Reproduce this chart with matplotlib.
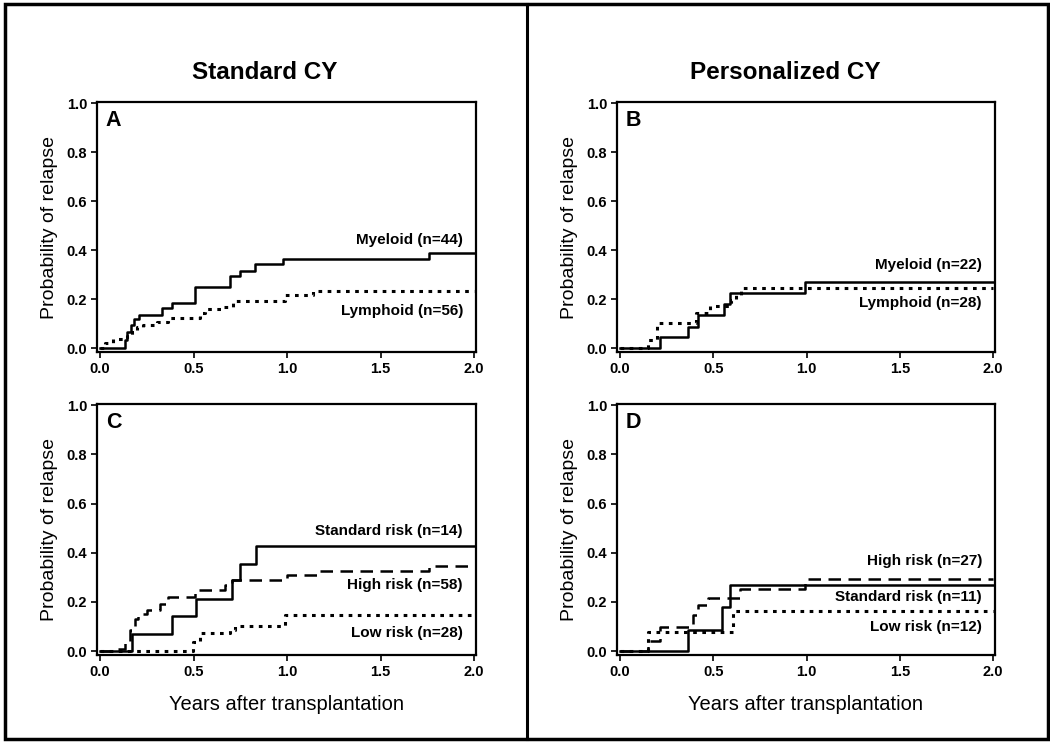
import matplotlib.pyplot as plt
from matplotlib.patches import Rectangle

# Panel A: Standard CY, by disease type
a_myeloid_t = [0.0, 0.134, 0.146, 0.164, 0.182, 0.21, 0.33, 0.383, 0.508, 0.695, 0.749, 0.829, 0.98, 1.756, 2.0]
a_myeloid_p = [0.0, 0.033, 0.067, 0.094, 0.117, 0.137, 0.162, 0.185, 0.248, 0.294, 0.316, 0.342, 0.362, 0.389, 0.389]
a_lymphoid_t = [0.0, 0.027, 0.071, 0.143, 0.17, 0.196, 0.232, 0.303, 0.365, 0.535, 0.561, 0.66, 0.713, 0.989, 1.14, 2.0]
a_lymphoid_p = [0.0, 0.019, 0.037, 0.049, 0.067, 0.087, 0.094, 0.107, 0.125, 0.142, 0.159, 0.169, 0.193, 0.216, 0.234, 0.234]

# Panel B: Personalized CY, by disease type
b_myeloid_t = [0.0, 0.215, 0.366, 0.42, 0.558, 0.592, 0.994, 2.0]
b_myeloid_p = [0.0, 0.046, 0.087, 0.135, 0.18, 0.227, 0.268, 0.268]
b_lymphoid_t = [0.0, 0.149, 0.2, 0.41, 0.482, 0.597, 0.624, 0.651, 2.0]
b_lymphoid_p = [0.0, 0.033, 0.103, 0.142, 0.171, 0.196, 0.216, 0.244, 0.244]

# Panel C: Standard CY, by risk group
c_std_t = [0.0, 0.169, 0.383, 0.513, 0.704, 0.749, 0.832, 2.0]
c_std_p = [0.0, 0.07, 0.141, 0.21, 0.29, 0.356, 0.427, 0.427]
c_high_t = [0.0, 0.071, 0.134, 0.16, 0.187, 0.205, 0.25, 0.321, 0.365, 0.508, 0.668, 0.704, 0.998, 1.159, 1.756, 2.0]
c_high_p = [0.0, 0.01, 0.043, 0.084, 0.131, 0.152, 0.168, 0.193, 0.222, 0.247, 0.267, 0.29, 0.308, 0.326, 0.346, 0.346]
c_low_t = [0.0, 0.499, 0.535, 0.695, 0.722, 0.989, 2.0]
c_low_p = [0.0, 0.036, 0.073, 0.084, 0.104, 0.145, 0.145]

# Panel D: Personalized CY, by risk group
d_std_t = [0.0, 0.363, 0.549, 0.592, 2.0]
d_std_p = [0.0, 0.087, 0.179, 0.27, 0.27]
d_high_t = [0.0, 0.149, 0.215, 0.393, 0.42, 0.473, 0.642, 0.994, 2.0]
d_high_p = [0.0, 0.043, 0.097, 0.145, 0.186, 0.217, 0.254, 0.292, 0.292]
d_low_t = [0.0, 0.149, 0.606, 2.0]
d_low_p = [0.0, 0.077, 0.162, 0.162]

SOLID = "-"
DASHED = (0, (5, 3))
DOTTED = (0, (1.2, 1.8))

panels = [
    ("A", [0.0924, 0.5262, 0.361, 0.3365],
     [(a_myeloid_t, a_myeloid_p, SOLID), (a_lymphoid_t, a_lymphoid_p, DOTTED)],
     [("Myeloid (n=44)", 0.44), ("Lymphoid (n=56)", 0.151)], False),
    ("B", [0.5876, 0.5262, 0.36, 0.3365],
     [(b_myeloid_t, b_myeloid_p, SOLID), (b_lymphoid_t, b_lymphoid_p, DOTTED)],
     [("Myeloid (n=22)", 0.339), ("Lymphoid (n=28)", 0.184)], False),
    ("C", [0.0924, 0.1184, 0.361, 0.3379],
     [(c_std_t, c_std_p, SOLID), (c_high_t, c_high_p, DASHED), (c_low_t, c_low_p, DOTTED)],
     [("Standard risk (n=14)", 0.49), ("High risk (n=58)", 0.267), ("Low risk (n=28)", 0.075)], True),
    ("D", [0.5876, 0.1184, 0.36, 0.3379],
     [(d_std_t, d_std_p, SOLID), (d_high_t, d_high_p, DASHED), (d_low_t, d_low_p, DOTTED)],
     [("High risk (n=27)", 0.365), ("Standard risk (n=11)", 0.218), ("Low risk (n=12)", 0.1)], True),
]

fig = plt.figure(figsize=(10.5, 7.43), dpi=100)
plt.rcParams["font.family"] = ["Liberation Sans", "DejaVu Sans"]

for letter, pos, curves, labels, bottom_row in panels:
    ax = fig.add_axes(pos)
    for t, p, ls in curves:
        lw = 2.2 if ls == DOTTED else 1.8
        ax.step(t, p, where="post", color="black", linestyle=ls, linewidth=lw)
    for text, y in labels:
        ax.text(1.94, y, text, ha="right", va="center", fontsize=11, fontweight="bold")
    ax.text(0.03, 0.93, letter, fontsize=15.5, fontweight="bold", va="center")
    ax.set_xlim(-0.016, 2.01)
    ax.set_ylim(-0.016, 1.005)
    ax.set_xticks([0, 0.5, 1.0, 1.5, 2.0])
    ax.set_yticks([0, 0.2, 0.4, 0.6, 0.8, 1.0])
    ax.set_xticklabels(["0.0", "0.5", "1.0", "1.5", "2.0"], fontweight="bold", fontsize=10.5)
    ax.set_yticklabels(["0.0", "0.2", "0.4", "0.6", "0.8", "1.0"], fontweight="bold", fontsize=10.5)
    ax.tick_params(length=4, width=1.2, pad=3)
    for s in ax.spines.values():
        s.set_linewidth(1.6)
    ax.set_ylabel("Probability of relapse", fontsize=14, labelpad=6)
    if bottom_row:
        ax.set_xlabel("Years after transplantation", fontsize=14.5, labelpad=12)

fig.text(0.2524, 0.903, "Standard CY", ha="center", va="center", fontsize=17.5, fontweight="bold")
fig.text(0.748, 0.903, "Personalized CY", ha="center", va="center", fontsize=17.5, fontweight="bold")

# outer frame and divider
fig.add_artist(Rectangle((0.005, 0.005), 0.993, 0.989, transform=fig.transFigure,
                         fill=False, edgecolor="black", linewidth=2.5))
fig.add_artist(plt.Line2D([0.502, 0.502], [0.005, 0.994], transform=fig.transFigure,
                          color="black", linewidth=2.2))

fig.savefig("out.png", dpi=100)
